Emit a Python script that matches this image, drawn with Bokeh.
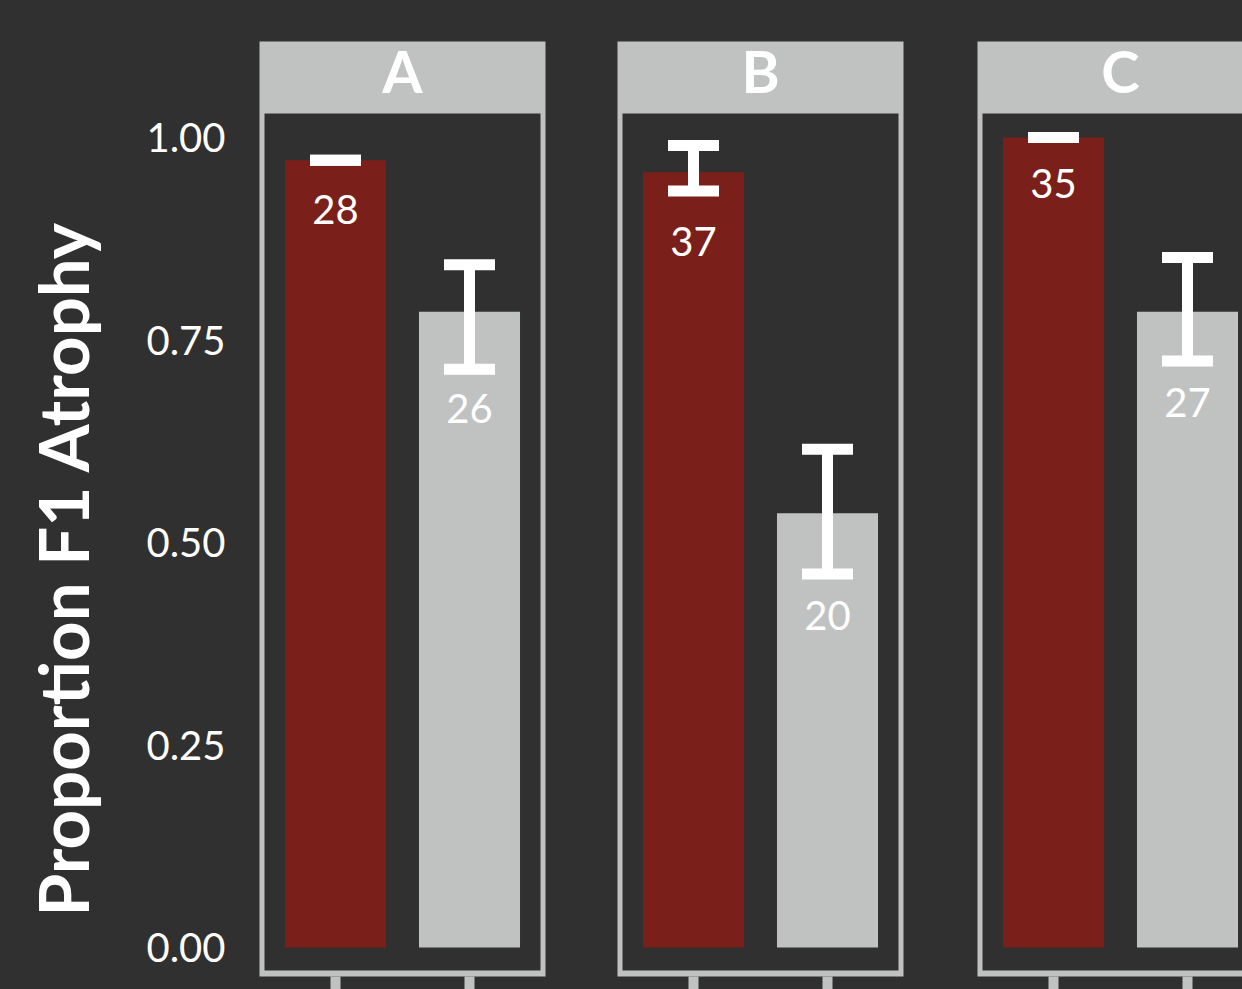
import math
from bokeh.plotting import figure
from bokeh.models import (ColumnDataSource, Whisker, TeeHead, BoxAnnotation, Label,
                          FixedTicker, Range1d)
from bokeh.layouts import row
from bokeh.embed import file_html
from bokeh.resources import INLINE
from bokeh.core.properties import value

# ---------------- data ----------------
panels = ["A", "B", "C"]
bar_pos = [1, 2]                      # two bars per panel: red group, grey group
red_prop = [0.972, 0.957, 1.000]
red_upper = [0.972, 0.990, 1.000]
red_lower = [0.972, 0.934, 1.000]
red_n = [28, 37, 35]
red_label_y = [0.911, 0.871, 0.943]
grey_prop = [0.785, 0.536, 0.785]
grey_upper = [0.843, 0.615, 0.852]
grey_lower = [0.714, 0.461, 0.724]
grey_n = [26, 20, 27]
grey_label_y = [0.665, 0.410, 0.673]
y_ticks = [0.0, 0.25, 0.5, 0.75, 1.0]
y_tick_labels = ["0.00", "0.25", "0.50", "0.75", "1.00"]
y_title = "Proportion F1 Atrophy"

# ---------------- style / layout ----------------
BG = "#303030"
LIGHT = "#c0c2c1"
RED = "#7a1f1a"
FONT = "Lato"

PX_X = 134.0     # pixels per x unit
PX_Y = 810.0     # pixels per y unit
Y0 = 947.0       # pixel row of y = 0
TOP = 41         # top of strip
BOTTOM = 976     # outer bottom of panel border
FRAME_H = BOTTOM - TOP
CANVAS_H = 989
TITLE_W = 140    # width of the strip holding the y-axis title

def ydata(px):
    return (Y0 - px) / PX_Y

x_start = 1 - 76 / PX_X
y_start = ydata(BOTTOM)
y_end = ydata(TOP)
strip_bottom = ydata(113)
inner_bottom = ydata(970)
inner_left = x_start + 5 / PX_X
inner_right = x_start + 281 / PX_X
strip_text_y = ydata(70)

left_borders = [259 - TITLE_W, 36, 37]
frame_widths = [286, 286, 265]
right_borders = [36, 37, 0]

# ---- y-axis title holder ----
t = figure(frame_width=TITLE_W, frame_height=CANVAS_H,
           min_border_left=0, min_border_right=0, min_border_top=0, min_border_bottom=0,
           x_range=Range1d(0, TITLE_W), y_range=Range1d(0, CANVAS_H),
           output_backend="svg", toolbar_location=None)
t.axis.visible = False
t.grid.visible = False
t.outline_line_color = None
t.background_fill_color = BG
t.border_fill_color = BG
t.add_layout(Label(x=62, y=CANVAS_H - 527, text=y_title, angle=math.pi / 2,
                   text_font=FONT, text_font_size="69px", text_font_style="bold",
                   text_color="white", text_align="center", text_baseline="middle"))
t.styles = {"background-color": BG}

figs = [t]
for i, name in enumerate(panels):
    fw = frame_widths[i]
    p = figure(frame_width=fw, frame_height=FRAME_H,
               min_border_left=left_borders[i], min_border_right=right_borders[i],
               min_border_top=TOP, min_border_bottom=CANVAS_H - BOTTOM,
               x_range=Range1d(x_start, x_start + fw / PX_X),
               y_range=Range1d(y_start, y_end),
               output_backend="svg", toolbar_location=None)
    p.background_fill_color = LIGHT
    p.border_fill_color = BG
    p.outline_line_color = None
    p.xgrid.visible = False
    p.ygrid.visible = False
    p.styles = {"background-color": BG}

    # inner dark panel (leaves the light border and the strip visible)
    p.add_layout(BoxAnnotation(left=inner_left,
                               right=(inner_right if i < 2 else None),
                               bottom=inner_bottom, top=strip_bottom,
                               fill_color=BG, fill_alpha=1.0,
                               line_alpha=0.0, level="underlay"))

    # x axis: only thick light ticks
    xa = p.xaxis[0]
    xa.ticker = FixedTicker(ticks=bar_pos)
    xa.axis_line_color = None
    xa.major_tick_line_color = LIGHT
    xa.major_tick_line_width = 10
    xa.major_tick_out = 13
    xa.major_tick_in = 0
    xa.minor_tick_line_color = None
    xa.major_label_text_font_size = "1px"
    xa.major_label_text_color = None
    xa.major_label_standoff = 0

    ya = p.yaxis[0]
    if i == 0:
        ya.ticker = FixedTicker(ticks=y_ticks)
        ya.major_label_overrides = {t_: l for t_, l in zip(y_ticks, y_tick_labels)}
        ya.axis_line_color = None
        ya.major_tick_line_color = None
        ya.minor_tick_line_color = None
        ya.major_tick_out = 0
        ya.major_tick_in = 0
        ya.major_label_standoff = 34
        ya.major_label_text_font = FONT
        ya.major_label_text_font_size = "40px"
        ya.major_label_text_color = "white"
    else:
        ya.visible = False

    src = ColumnDataSource(dict(
        x=bar_pos,
        top=[red_prop[i], grey_prop[i]],
        upper=[red_upper[i], grey_upper[i]],
        lower=[red_lower[i], grey_lower[i]],
        color=[RED, LIGHT],
        n=[str(red_n[i]), str(grey_n[i])],
        ly=[red_label_y[i], grey_label_y[i]],
    ))
    p.vbar(x="x", top="top", bottom=0, width=0.754, fill_color="color",
           line_color=None, source=src)
    p.add_layout(Whisker(source=src, base="x", upper="upper", lower="lower",
                         line_color="white", line_width=11, level="annotation",
                         upper_head=TeeHead(size=51, line_color="white", line_width=11),
                         lower_head=TeeHead(size=51, line_color="white", line_width=11)))
    p.text(x="x", y="ly", text="n", source=src, text_font=value(FONT),
           text_font_size="40px", text_color="white",
           text_align="center", text_baseline="middle")

    p.add_layout(Label(x=1.5, y=strip_text_y, text=name, text_font=FONT,
                       text_font_size="58px", text_font_style="bold",
                       text_color="white", text_align="center",
                       text_baseline="middle"))
    figs.append(p)

layout = row(*figs, spacing=0, styles={"background-color": BG})
open("out.html", "w").write(file_html(layout, INLINE))
